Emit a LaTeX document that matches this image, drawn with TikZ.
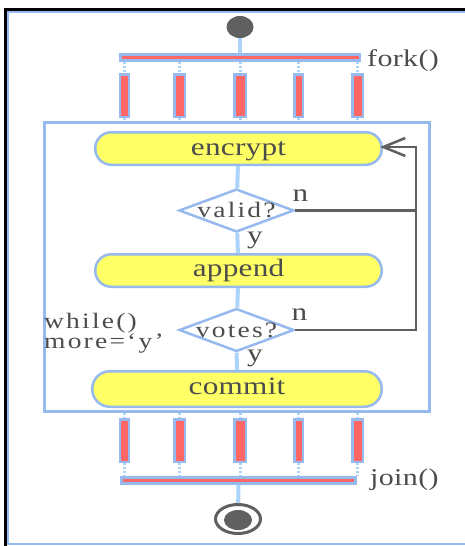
\documentclass[tikz,border=0pt]{standalone}
\usepackage{fontspec}
\setmainfont{Liberation Serif}[FakeStretch=1.25]
\usetikzlibrary{shapes.geometric,arrows.meta}
\definecolor{bedge}{RGB}{150,185,238}
\definecolor{lblue}{RGB}{172,212,250}
\definecolor{barred}{RGB}{255,102,102}
\definecolor{yel}{RGB}{255,255,102}
\definecolor{dgrey}{RGB}{96,96,96}
\definecolor{tgrey}{RGB}{76,76,76}
\begin{document}
\begin{tikzpicture}[x=1pt,y=-1pt,
  bar/.style={draw=bedge,line width=2.5pt,fill=barred,inner sep=0pt,minimum height=42.5pt},
  act/.style={draw=bedge,line width=2.5pt,fill=yel,rounded corners=16pt,minimum width=286.5pt,minimum height=32.5pt,inner sep=0pt},
  atext/.style={text=tgrey,inner sep=0pt,font=\fontsize{25}{28}\selectfont\addfontfeature{LetterSpace=1}},
  dec/.style={diamond,draw=bedge,line width=2.5pt,fill=white,minimum width=115pt,minimum height=43pt,inner sep=0pt},
  dtext/.style={text=tgrey,inner sep=0pt,font=\fontsize{22}{24}\selectfont\addfontfeature{LetterSpace=10}},
  lbl/.style={text=tgrey,inner sep=0pt,font=\fontsize{25}{26}\selectfont},
  side/.style={text=tgrey,inner sep=0pt,font=\fontsize{24}{26}\selectfont\addfontfeature{LetterSpace=1.5}},
  wtext/.style={text=tgrey,inner sep=0pt,font=\fontsize{22}{24}\selectfont\addfontfeature{LetterSpace=10}},
  flow/.style={draw=lblue,line width=4pt},
  dots/.style={draw=lblue,line width=3pt,dash pattern=on 2pt off 2pt},
  loopline/.style={draw=dgrey,line width=2.5pt}]
\useasboundingbox (0,0) rectangle (464,546);
% frame
\draw[bedge,line width=2pt] (470,11.8) -- (8.3,11.8) -- (8.3,543.5) -- (470,543.5);
\draw[black,line width=2.5pt] (5.3,550) -- (5.3,9.5) -- (470,9.5);
% loop region
\node[draw=bedge,line width=3pt,fill=white,minimum width=385pt,minimum height=289pt,inner sep=0pt] (loop) at (237,267) {};
% start and fork
\node[ellipse,fill=dgrey,minimum width=27pt,minimum height=22pt,inner sep=0pt] (start) at (240,27) {};
\node[bar,minimum width=239.5pt,minimum height=6pt] (forkbar) at (240,57.5) {};
\node[side,anchor=base west] (forktxt) at (367,66) {fork()};
\draw[flow] (start) -- (forkbar);
\foreach \i/\x/\w in {1/124.5/9,2/179.5/10.5,3/240/11.5,4/298.5/8.5,5/357.5/10.5}{
  \node[bar,minimum width=\w pt] (t\i) at (\x,95.5) {};
  \draw[dots] (forkbar.south -| t\i) -- (t\i.north);
  \draw[dots] (t\i.south) -- (t\i.south |- loop.north);
}
% activities
\node[act] (encrypt) at (238.5,148.5) {};
\node[atext] (enctxt) at ([yshift=-2.5pt]encrypt.center) {encrypt};
\node[dec] (valid) at (236.5,210.5) {};
\node[dtext] (validtxt) at (valid) {valid?};
\node[act] (append) at (238.5,270.5) {};
\node[atext] (apptxt) at (append) {append};
\node[dec] (votes) at (236.5,330) {};
\node[dtext] (votestxt) at (votes) {votes?};
\node[act,minimum width=289.5pt,minimum height=35.5pt,rounded corners=17.5pt] (commit) at (237,389) {};
\node[atext] (comtxt) at ([yshift=2.5pt]commit.center) {commit};
\draw[flow] (encrypt) -- (valid);
\draw[flow] (valid) -- (append);
\draw[flow] (append) -- (votes);
\draw[flow] (votes) -- (commit);
\node[lbl] (n1) at (300.5,196) {n};
\node[lbl] (y1) at (255,240) {y};
\node[lbl] (n2) at (299.5,315) {n};
\node[lbl] (y2) at (255,358) {y};
\node[wtext,anchor=base west] (wh1) at (44,328.5) {while()};
\node[wtext,anchor=base west] (wh2) at (44,348.5) {more=‘y’};
% loop back
\coordinate (ltop) at (416,147);
\coordinate (lmid) at (416,210.5);
\coordinate (lbot) at (416,330);
\draw[loopline] (valid.east) -- (lmid);
\draw[loopline,-{Straight Barb[length=22pt,width=18pt,line width=2.5pt]},shorten >=-3pt] (votes.east) -- (lbot) -- (ltop) -- (ltop -| encrypt.east);
% bottom bars and join
\node[bar,minimum width=234pt,minimum height=6pt] (joinbar) at (238.5,480.5) {};
\node[side,anchor=base west] (jointxt) at (370,485) {join()};
\foreach \i/\x/\w in {1/124.5/9,2/179.5/10.5,3/240/11.5,4/298.5/8.5,5/357.5/10.5}{
  \node[bar,minimum width=\w pt] (b\i) at (\x,440.5) {};
  \draw[dots] (b\i.north |- loop.south) -- (b\i.north);
  \draw[dots] (b\i.south) -- (b\i.south |- joinbar.north);
}
\node[ellipse,draw=dgrey,line width=3pt,fill=white,minimum width=45pt,minimum height=29pt,inner sep=0pt] (endring) at (238,519) {};
\node[ellipse,fill=dgrey,minimum width=28pt,minimum height=20pt,inner sep=0pt] (enddot) at (238,520) {};
\draw[flow] (joinbar) -- (endring);
\end{tikzpicture}
\end{document}
